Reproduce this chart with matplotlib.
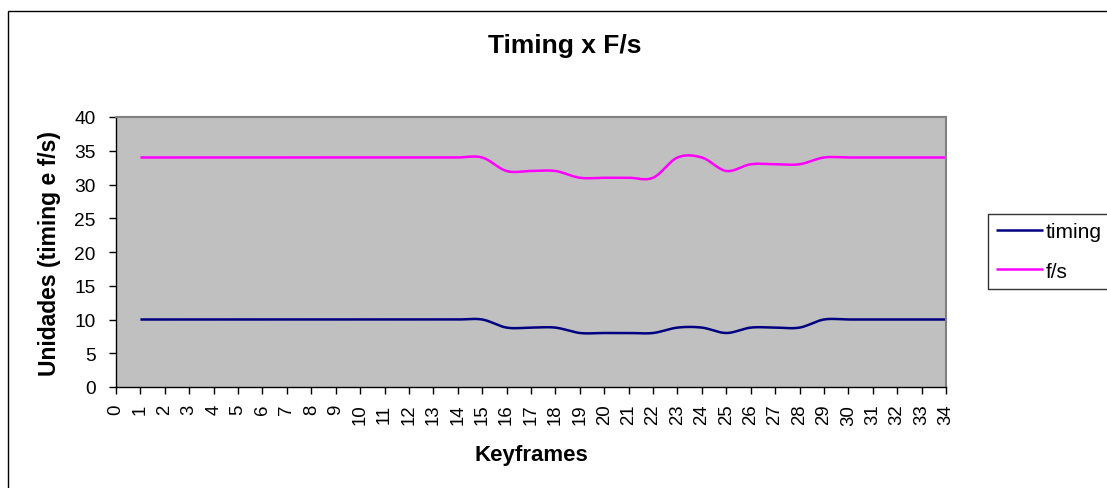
import numpy as np
import matplotlib
matplotlib.use("Agg")
import matplotlib.pyplot as plt
from matplotlib.patches import Rectangle

plt.rcParams['font.family'] = ['Liberation Sans', 'DejaVu Sans']

keyframes = list(range(1, 35))
timing = [10] * 15 + [8.8, 8.8, 8.8, 8, 8, 8, 8, 8.8, 8.8, 8, 8.8, 8.8, 8.8] + [10] * 6
fps = [34] * 15 + [32, 32, 32, 31, 31, 31, 31, 34, 34, 32, 33, 33, 33] + [34] * 6
x_ticks = list(range(0, 35))
y_ticks = list(range(0, 41, 5))


def smooth(xs, ys, steps=20):
    """Catmull-Rom curve through the points (spreadsheet-style smoothed line)."""
    xs = np.asarray(xs, float)
    ys = np.asarray(ys, float)
    px = np.concatenate([[xs[0]], xs, [xs[-1]]])
    py = np.concatenate([[ys[0]], ys, [ys[-1]]])
    out_x, out_y = [], []
    t = np.linspace(0, 1, steps, endpoint=False)
    for i in range(1, len(px) - 2):
        p0x, p1x, p2x, p3x = px[i - 1:i + 3]
        p0y, p1y, p2y, p3y = py[i - 1:i + 3]
        m1x, m2x = (p2x - p0x) / 2, (p3x - p1x) / 2
        m1y, m2y = (p2y - p0y) / 2, (p3y - p1y) / 2
        h00 = 2 * t**3 - 3 * t**2 + 1
        h10 = t**3 - 2 * t**2 + t
        h01 = -2 * t**3 + 3 * t**2
        h11 = t**3 - t**2
        out_x.append(h00 * p1x + h10 * m1x + h01 * p2x + h11 * m2x)
        out_y.append(h00 * p1y + h10 * m1y + h01 * p2y + h11 * m2y)
    out_x.append([xs[-1]])
    out_y.append([ys[-1]])
    return np.concatenate(out_x), np.concatenate(out_y)


W, H = 1107, 489
fig = plt.figure(figsize=(W / 100, H / 100), dpi=100)
fig.patch.set_facecolor('white')

# outer chart frame
fig.add_artist(Rectangle((8 / W, -0.1), 1.2, 1 - 12 / H + 0.1, transform=fig.transFigure,
                         fill=False, edgecolor='black', linewidth=1.0))

left, right, top, bottom = 116, 946, 118, 388
ax = fig.add_axes([left / W, 1 - bottom / H, (right - left) / W, (bottom - top) / H])
ax.set_facecolor('#C0C0C0')

sx, sy = smooth(keyframes, timing)
ax.plot(sx, sy, color='#000080', linewidth=1.8, label='timing', solid_capstyle='butt')
sx, sy = smooth(keyframes, fps)
ax.plot(sx, sy, color='#FF00FF', linewidth=1.8, label='f/s', solid_capstyle='butt')

ax.set_xlim(0, 34)
ax.set_ylim(0, 40)
ax.set_xticks(x_ticks)
ax.set_xticklabels([str(v) for v in x_ticks], rotation=90, fontsize=13.4)
ax.set_yticks(y_ticks)
ax.set_yticklabels([str(v) for v in y_ticks], fontsize=13.8)
ax.tick_params(axis='both', direction='out', length=5, width=1, color='black')
ax.tick_params(axis='y', pad=9.5)
ax.tick_params(axis='x', pad=7)

for side in ('top', 'right'):
    ax.spines[side].set_color('#808080')
    ax.spines[side].set_linewidth(1.5)
for side in ('left', 'bottom'):
    ax.spines[side].set_color('black')
    ax.spines[side].set_linewidth(1.0)

ax.set_xlabel('Keyframes', fontsize=16, fontweight='bold', labelpad=14)
ax.set_ylabel('Unidades (timing e f/s)', fontsize=16.5, fontweight='bold', labelpad=10)
fig.text((486 + 644) / 2 / W, 1 - 46 / H, 'Timing x F/s', fontsize=19, fontweight='bold',
         ha='center', va='center')

leg = ax.legend(loc='upper left', bbox_to_anchor=(988 / W, 1 - 215 / H),
                bbox_transform=fig.transFigure, fontsize=15, frameon=True, fancybox=False,
                edgecolor='black', handlelength=2.25, handletextpad=0.15, labelspacing=1.0,
                borderpad=0.38, borderaxespad=0)
leg.get_frame().set_linewidth(1.0)

fig.savefig('out.png', dpi=100, facecolor='white')
